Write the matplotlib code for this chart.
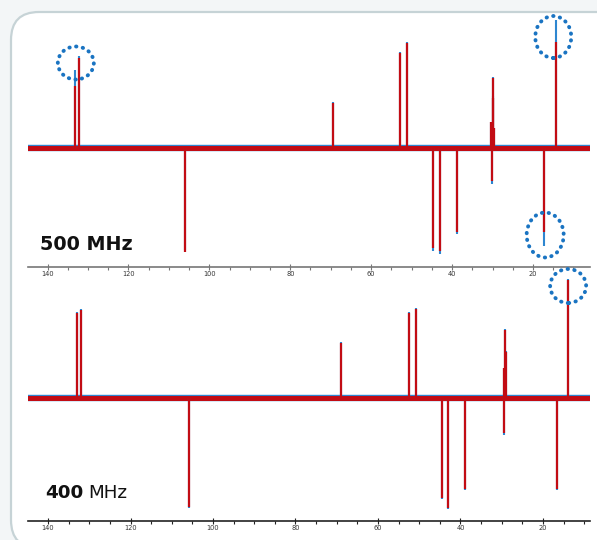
import matplotlib
matplotlib.use("Agg")
import matplotlib.pyplot as plt
from matplotlib.patches import FancyBboxPatch, Ellipse
from matplotlib.transforms import IdentityTransform
from matplotlib.ticker import MultipleLocator

# ---------------- data ----------------
tick_values = [140, 120, 100, 80, 60, 40, 20]

# 500 MHz spectrum (ppm, red trace height, blue trace height)
shifts_500 = [133.2, 132.2, 106.0, 69.4, 52.9, 51.2, 44.8, 43.0, 38.8,
              30.3, 30.1, 29.95, 29.8, 29.6, 17.3, 14.3]
red_500 = [62, 90, -104, 45, 95, 105, -100, -103, -84,
           26, -33, 70, 50, 20, -84, 106]
blue_500 = [78, 92, -102, 46, 96, 106, -103, -106, -86,
            26, -36, 71, 52, 20, -98, 128]

# 400 MHz spectrum
shifts_400 = [133.0, 132.0, 105.8, 69.0, 52.5, 50.8, 44.5, 43.0, 38.9,
              29.5, 29.35, 29.2, 29.0, 16.6, 13.9]
red_400 = [85, 88, -109, 55, 85, 89, -100, -110, -91,
           30, -35, 68, 46, -91, 118]
blue_400 = [86, 89, -110, 56, 86, 90, -101, -111, -92,
            30, -37, 69, 47, -92, 119]

# circled peaks: peak indices
circles_500 = [1, 15, 14]
circles_400 = [14]

RED = "#c20c14"
BLUE = "#2e86d0"
DOT = "#1a74c2"

W, H = 597, 540
fig = plt.figure(figsize=(W / 100, H / 100), dpi=100, facecolor="#f3f6f7")

frame = FancyBboxPatch((11, H - 548), 640, 536,
                       boxstyle="round,pad=0,rounding_size=28",
                       transform=IdentityTransform(), fc="white",
                       ec="#c6d3d6", lw=1.6, zorder=0)
fig.add_artist(frame)


def make_ax(left, right, top, bottom, xlim, ylim, spine_color):
    ax = fig.add_axes([left / W, 1 - bottom / H, (right - left) / W,
                       (bottom - top) / H])
    ax.set_facecolor("none")
    ax.set_xlim(*xlim)
    ax.set_ylim(*ylim)
    for s in ["top", "left", "right"]:
        ax.spines[s].set_visible(False)
    ax.spines["bottom"].set_color(spine_color)
    ax.spines["bottom"].set_linewidth(1.2)
    ax.set_yticks([])
    ax.set_xticks(tick_values)
    ax.set_xticklabels([str(v) for v in tick_values])
    ax.xaxis.set_minor_locator(MultipleLocator(5))
    ax.tick_params(axis="x", which="major", direction="inout", length=4,
                   width=0.8, colors=spine_color, labelsize=4.8, pad=1.0,
                   labelcolor="#333333")
    ax.tick_params(axis="x", which="minor", direction="out", length=2.2,
                   width=0.8, colors=spine_color)
    return ax


def draw_spectrum(ax, shifts, red, blue):
    ax.axhline(0, color=BLUE, lw=4.6, zorder=1)
    ax.axhline(0, color=RED, lw=3.6, zorder=2)
    ax.vlines(shifts, 0, blue, colors=BLUE, lw=1.5, zorder=3)
    ax.vlines(shifts, 0, red, colors=RED, lw=1.6, zorder=4)


def circle(ax, x, y, rx_px, ry_px, px_per_ppm):
    e = Ellipse((x, y), width=2 * rx_px / px_per_ppm, height=2 * ry_px,
                fill=False, ec=DOT, lw=2.8, linestyle=(0, (0.1, 1.65)),
                capstyle="round", clip_on=False, zorder=6)
    ax.add_patch(e)


# top: 500 MHz
ax1 = make_ax(28, 590, 15, 267, (144.82, 5.92), (-119, 133), "#777777")
draw_spectrum(ax1, shifts_500, red_500, blue_500)
s1 = 4.046
i = circles_500[0]
circle(ax1, (shifts_500[0] + shifts_500[1]) / 2 + 0.3, blue_500[i] - 7, 18, 16.5, s1)
i = circles_500[1]
circle(ax1, shifts_500[i] + 0.7, blue_500[i] - 17, 18, 21, s1)
i = circles_500[2]
circle(ax1, shifts_500[i] - 0.3, blue_500[i] + 11, 18.5, 22.5, s1)

# bottom: 400 MHz
ax2 = make_ax(28, 590, 275, 521, (144.85, 8.6), (-123, 123), "#222222")
draw_spectrum(ax2, shifts_400, red_400, blue_400)
s2 = 4.125
i = circles_400[0]
circle(ax2, shifts_400[i], blue_400[i] - 7, 18, 17, s2)

# labels
fig.text(40 / W, 1 - 250 / H, "500 MHz", fontsize=13.8, fontweight="bold",
         va="baseline", ha="left", color="#111111")
t1 = fig.text(45 / W, 1 - 498 / H, "400", fontsize=13.2, fontweight="bold",
              va="baseline", ha="left", color="#111111")
fig.canvas.draw()
bb = t1.get_window_extent(fig.canvas.get_renderer())
fig.text((bb.x1 + 4.5) / W, 1 - 498 / H, "MHz", fontsize=13.2,
         fontweight="normal", va="baseline", ha="left", color="#111111")

fig.savefig("out.png", dpi=100, facecolor=fig.get_facecolor())
